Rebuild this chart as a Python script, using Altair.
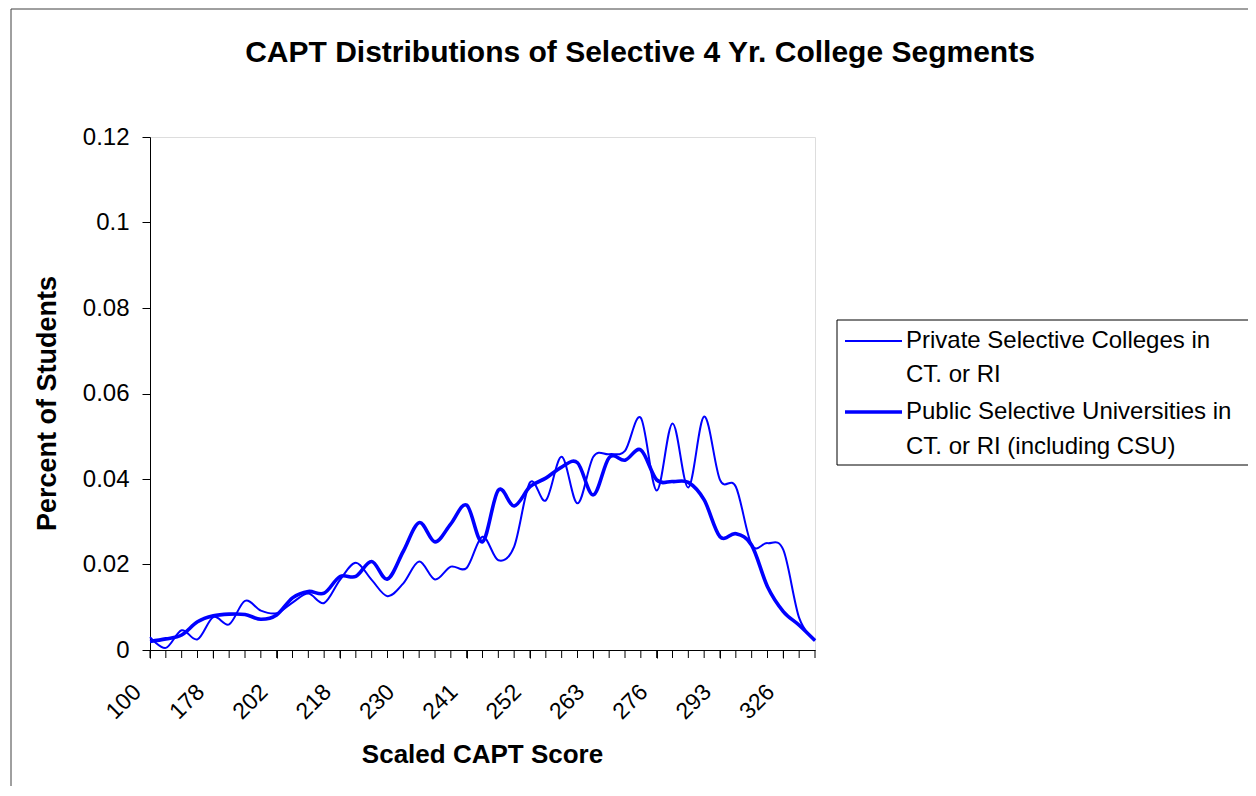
import json
import altair as alt
import pandas as pd

# ---- data ----
title_text = "CAPT Distributions of Selective 4 Yr. College Segments"
tick_labels = ["100", "178", "202", "218", "230", "241", "252", "263", "276", "293", "326"]
n_categories = 43
private_vals = [0.003, 0.0005, 0.0046, 0.0025, 0.0077, 0.006, 0.0115, 0.0092, 0.0086, 0.0111,
                0.0132, 0.011, 0.0164, 0.0204, 0.0164, 0.0126, 0.0156, 0.0207, 0.0165, 0.0195,
                0.0192, 0.0265, 0.021, 0.0242, 0.0392, 0.035, 0.0452, 0.0343, 0.0452, 0.0458,
                0.0466, 0.0543, 0.0373, 0.053, 0.038, 0.0546, 0.0398, 0.0382, 0.0246, 0.025,
                0.0234, 0.0075, 0.0022]
public_vals = [0.002, 0.0026, 0.0035, 0.0066, 0.008, 0.0084, 0.0083, 0.0072, 0.0082, 0.0122,
               0.0137, 0.0133, 0.0172, 0.0172, 0.0207, 0.0166, 0.0231, 0.0298, 0.0253, 0.0295,
               0.0339, 0.0253, 0.0374, 0.0337, 0.0382, 0.0402, 0.0428, 0.0438, 0.0363, 0.045,
               0.0444, 0.0468, 0.0398, 0.0394, 0.0392, 0.0351, 0.0265, 0.0272, 0.0245, 0.0148,
               0.009, 0.0058, 0.0022]
series_names = ["Private Selective Colleges in CT. or RI",
                "Public Selective Universities in CT. or RI (including CSU)"]
legend_lines = [["Private Selective Colleges in", "CT. or RI"],
                ["Public Selective Universities in", "CT. or RI (including CSU)"]]
y_ticks = [0, 0.02, 0.04, 0.06, 0.08, 0.1, 0.12]

FONT = "Liberation Sans"
BLUE = "#0000FF"

df_priv = pd.DataFrame({"idx": list(range(len(private_vals))), "value": private_vals,
                        "series": series_names[0]})
df_pub = pd.DataFrame({"idx": list(range(len(public_vals))), "value": public_vals,
                       "series": series_names[1]})
df_ticks = pd.DataFrame({"idx": list(range(n_categories))})

W, H = 665, 513
PAD_L, PAD_T = 142, 129
PAD_R = 1240 - PAD_L - W
PAD_B = 778 - PAD_T - H

label_expr = ("datum.value % 4 === 0 ? " + json.dumps(tick_labels) +
              "[datum.value / 4] : ''")

x_enc = alt.X("idx:Q",
              scale=alt.Scale(domain=[0, n_categories - 1], nice=False, zero=False),
              axis=alt.Axis(values=list(range(n_categories)), labelExpr=label_expr,
                            labelAngle=-45, labelAlign="right", labelBaseline="middle",
                            labelFontSize=23, labelFont=FONT, labelColor="black",
                            labelPadding=30, labelOffset=-13, labelOverlap=False,
                            tickSize=8, tickColor="black", domainColor="black",
                            grid=False, title="Scaled CAPT Score", titleFont=FONT,
                            titleFontSize=26, titleFontWeight="bold", titleColor="black",
                            titleX=332, titleY=104, titleBaseline="middle"))
y_enc = alt.Y("value:Q",
              scale=alt.Scale(domain=[0, 0.12], nice=False),
              axis=alt.Axis(values=y_ticks,
                            labelExpr="toString(round(datum.value*100)/100)",
                            labelFontSize=24, labelFont=FONT, labelColor="black",
                            labelPadding=13, tickSize=8, tickColor="black",
                            domainColor="black", grid=False,
                            title="Percent of Students", titleFont=FONT, titleFontSize=27,
                            titleFontWeight="bold", titleColor="black",
                            titleX=-103, titleY=266, titleBaseline="middle"))

line_priv = alt.Chart(df_priv).mark_line(color=BLUE, strokeWidth=2, interpolate="cardinal").encode(
    x=x_enc, y=y_enc)
line_pub = alt.Chart(df_pub).mark_line(color=BLUE, strokeWidth=3.6, interpolate="cardinal").encode(
    x="idx:Q", y="value:Q")

# a tick under every category (the axis labels only every fourth one)
cat_ticks = alt.Chart(df_ticks).mark_rule(color="black", strokeWidth=1).encode(
    x="idx:Q", y=alt.value(H), y2=alt.value(H + 8))

one = pd.DataFrame({"k": [0]})

# outer chart border
border = alt.Chart(one).mark_rect(fill=None, stroke="#404040", strokeWidth=1).encode(
    x=alt.value(-139), x2=alt.value(1130), y=alt.value(-128), y2=alt.value(700))

# chart title
title = alt.Chart(one).mark_text(
    text=title_text, align="center", baseline="alphabetic", font=FONT, fontSize=30,
    fontWeight="bold", color="black").encode(x=alt.value(490), y=alt.value(-75))

# legend box and entries
leg_box = alt.Chart(one).mark_rect(fill="white", stroke="black", strokeWidth=1).encode(
    x=alt.value(687), x2=alt.value(1130), y=alt.value(183), y2=alt.value(328))
leg_rule1 = alt.Chart(one).mark_rule(color=BLUE, strokeWidth=2).encode(
    x=alt.value(695), x2=alt.value(752), y=alt.value(204))
leg_rule2 = alt.Chart(one).mark_rule(color=BLUE, strokeWidth=3.6).encode(
    x=alt.value(695), x2=alt.value(752), y=alt.value(275))
leg_texts = []
for (l1, l2), (y1, y2) in zip(legend_lines, [(204, 238), (275, 310)]):
    for txt, yy in ((l1, y1), (l2, y2)):
        leg_texts.append(alt.Chart(one).mark_text(
            text=txt, align="left", baseline="middle", font=FONT, fontSize=24,
            color="black").encode(x=alt.value(756), y=alt.value(yy)))

chart = alt.layer(border, title, line_priv, line_pub, cat_ticks, leg_box, leg_rule1,
                  leg_rule2, *leg_texts).properties(
    width=W, height=H,
    padding={"left": PAD_L, "top": PAD_T, "right": PAD_R, "bottom": PAD_B},
    autosize=alt.AutoSizeParams(type="none"),
).configure_view(stroke="#808080", strokeWidth=1).configure(background="white")

chart.save("out.html", embed_options={"renderer": "svg", "actions": False})
